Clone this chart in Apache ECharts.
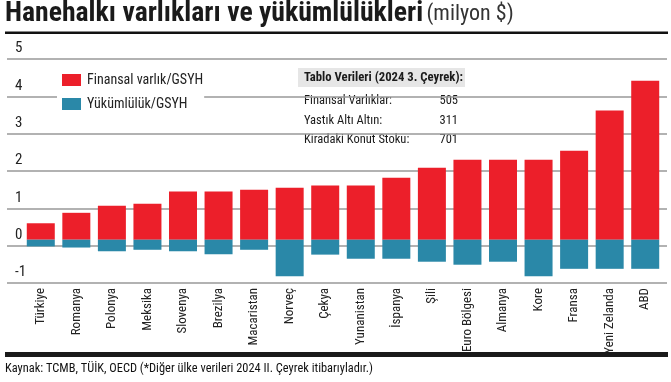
<!DOCTYPE html>
<html>
<head>
<meta charset="utf-8">
<script src="https://cdn.jsdelivr.net/npm/echarts@6/dist/echarts.min.js"></script>
<style>
html,body{margin:0;padding:0;background:#fff;}
#chart{width:671px;height:382px;}
</style>
</head>
<body>
<div id="chart"></div>
<script>
// ---- data ----
const categories = ['Türkiye','Romanya','Polonya','Meksika','Slovenya','Brezilya','Macaristan','Norveç','Çekya','Yunanistan','İspanya','Şili','Euro Bölgesi','Almanya','Kore','Fransa','Yeni Zelanda','ABD'];
// top of red bar, read on the axis
const assetTop = [0.60, 0.88, 1.07, 1.12, 1.45, 1.45, 1.50, 1.55, 1.61, 1.61, 1.82, 2.09, 2.30, 2.30, 2.30, 2.54, 3.62, 4.42];
// bottom of blue bar, read on the axis
const liabilityBottom = [-0.02, -0.05, -0.15, -0.11, -0.15, -0.23, -0.11, -0.82, -0.24, -0.35, -0.35, -0.43, -0.51, -0.43, -0.82, -0.62, -0.62, -0.62];
// level where both bars meet
const barBase = 0.16;
const yMin = -1, yMax = 5, yInterval = 1;
const seriesNames = ['Finansal varlık/GSYH', 'Yükümlülük/GSYH'];
const tableTitle = 'Tablo Verileri (2024 3. Çeyrek):';
const tableLabels = ['Finansal Varlıklar:', 'Yastık Altı Altın:', 'Kiradaki Konut Stoku:'];
const tableValues = ['505', '311', '701'];
const titleMain = 'Hanehalkı varlıkları ve yükümlülükleri';
const titleUnit = '(milyon $)';
const sourceNote = 'Kaynak: TCMB, TÜİK, OECD (*Diğer ülke verileri 2024 II. Çeyrek itibarıyladır.)';

const FONT = "'Roboto Condensed', 'DejaVu Sans Condensed', sans-serif";
const RED = '#EC1F2A';
const BLUE = '#2A88A8';
const GRID_COLOR = '#999999';

const chart = echarts.init(document.getElementById('chart'), null, {renderer: 'canvas'});

const tableTop = 68;
const rowH = 19.5;
const tableGraphics = [
  {type: 'rect', shape: {x: 297, y: tableTop, width: 165, height: 82}, style: {fill: '#fff'}},
  {type: 'rect', shape: {x: 298, y: tableTop, width: 167, height: 19}, style: {fill: '#e6e6e6'}},
  {type: 'text', x: 304, y: tableTop + 10, style: {text: tableTitle, font: "bold 12.7px " + FONT, fill: '#1a1a1a', textVerticalAlign: 'middle'}}
];
tableLabels.forEach((lab, i) => {
  const y = tableTop + 33 + i * rowH;
  tableGraphics.push({type: 'text', x: 304, y: y, style: {text: lab, font: "12.5px " + FONT, fill: '#1a1a1a', textVerticalAlign: 'middle'}});
  tableGraphics.push({type: 'text', x: 458, y: y, style: {text: tableValues[i], font: "12.5px " + FONT, fill: '#1a1a1a', textVerticalAlign: 'middle', textAlign: 'right'}});
});

const option = {
  animation: false,
  textStyle: {fontFamily: FONT},
  grid: [
    {left: 7, width: 660, top: 59, height: 224},
    {left: 23, width: 640, top: 59, height: 224}
  ],
  xAxis: [
    {gridIndex: 0, type: 'value', min: 0, max: 1, show: false},
    {gridIndex: 1, type: 'category', data: categories, position: 'bottom',
      axisLine: {show: false, onZero: false}, axisTick: {show: false},
      axisLabel: {rotate: 90, margin: 5, fontSize: 13, color: '#222', fontFamily: FONT, interval: 0}}
  ],
  yAxis: [
    {gridIndex: 0, type: 'value', min: yMin, max: yMax, interval: yInterval,
      axisLine: {show: false}, axisTick: {show: false},
      splitLine: {show: true, lineStyle: {color: GRID_COLOR, width: 1.5}},
      axisLabel: {inside: true, margin: 8, verticalAlign: 'bottom', padding: [0, 0, 3, 0], fontSize: 15, color: '#222', fontFamily: FONT}},
    {gridIndex: 1, type: 'value', min: yMin, max: yMax, interval: yInterval, show: false, splitLine: {show: false}}
  ],
  legend: {
    data: seriesNames, orient: 'vertical', left: 57, top: 69,
    itemWidth: 19, itemHeight: 12, itemGap: 10, icon: 'rect',
    backgroundColor: '#fff', padding: [4, 1, 4, 5],
    textStyle: {fontSize: 14, color: '#222', fontFamily: FONT, padding: [0, 0, 0, 1]}
  },
  series: [
    {type: 'bar', xAxisIndex: 1, yAxisIndex: 1, stack: 'asset', stackStrategy: 'all', silent: true,
      data: categories.map(() => barBase), itemStyle: {color: 'rgba(0,0,0,0)'}, barWidth: 28, barGap: '-100%'},
    {name: seriesNames[0], type: 'bar', xAxisIndex: 1, yAxisIndex: 1, stack: 'asset', stackStrategy: 'all',
      data: assetTop.map(v => +(v - barBase).toFixed(3)), itemStyle: {color: RED}, barWidth: 28, barGap: '-100%'},
    {type: 'bar', xAxisIndex: 1, yAxisIndex: 1, stack: 'liab', stackStrategy: 'all', silent: true,
      data: categories.map(() => barBase), itemStyle: {color: 'rgba(0,0,0,0)'}, barWidth: 28, barGap: '-100%'},
    {name: seriesNames[1], type: 'bar', xAxisIndex: 1, yAxisIndex: 1, stack: 'liab', stackStrategy: 'all',
      data: liabilityBottom.map(v => +(v - barBase).toFixed(3)), itemStyle: {color: BLUE}, barWidth: 28, barGap: '-100%'}
  ],
  graphic: [
    {type: 'text', x: 5, y: 28, z: 100, style: {
      text: '{a|' + titleMain + '} {b|' + titleUnit + '}', textVerticalAlign: 'bottom',
      rich: {
        a: {font: "bold 27.7px " + FONT, fill: '#1a1a1a'},
        b: {font: "22px " + FONT, fill: '#333'}
      }}},
    {type: 'rect', z: 100, shape: {x: 5, y: 31.5, width: 663, height: 2.5}, style: {fill: '#111'}},
    {type: 'group', z: 100, children: tableGraphics},
    {type: 'rect', z: 100, shape: {x: 5, y: 352, width: 663, height: 5}, style: {fill: '#1a1a1a'}},
    {type: 'text', z: 100, x: 5, y: 369, style: {text: sourceNote, font: "12.4px " + FONT, fill: '#111', textVerticalAlign: 'middle'}}
  ]
};
chart.setOption(option);
</script>
</body>
</html>
